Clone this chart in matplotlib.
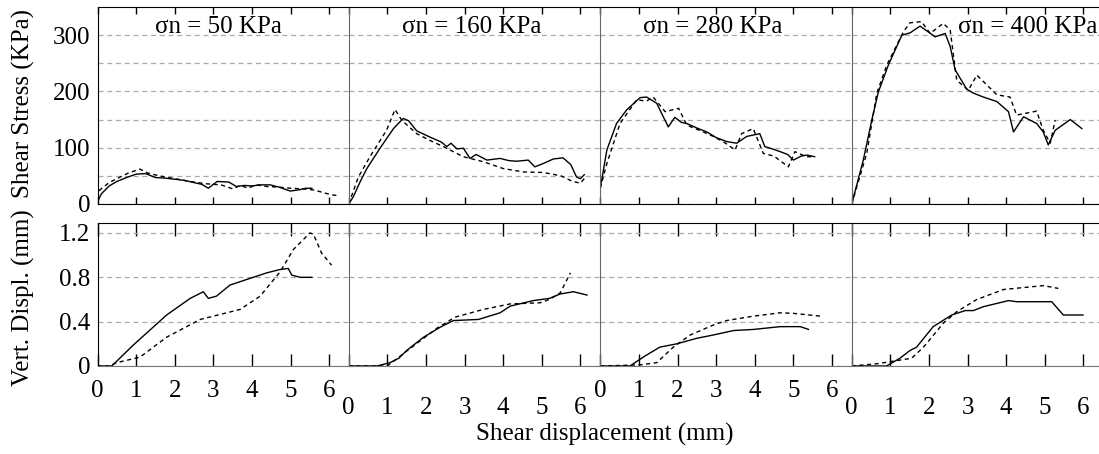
import matplotlib
matplotlib.use("Agg")
import matplotlib.pyplot as plt

plt.rcParams['font.family'] = ['Liberation Serif', 'DejaVu Serif']

# ---------------- data ----------------
normal_stress = [50, 160, 280, 400]
titles = ["σn = 50 KPa", "σn = 160 KPa", "σn = 280 KPa", "σn = 400 KPa"]
title_x = [3.12, 3.19, 2.92, 4.57]

# shear stress (KPa) vs shear displacement (mm): solid / dashed
tau_x_solid_50 = [0, 0.1, 0.3, 0.5, 0.75, 1.0, 1.25, 1.5, 1.75, 2.0, 2.25, 2.5, 2.7, 2.87, 3.0, 3.1, 3.4, 3.6, 3.8, 4.0, 4.2, 4.47, 4.7, 4.99, 5.2, 5.4, 5.55]
tau_y_solid_50 = [4, 18, 32, 40, 47, 53, 54, 47, 46, 44, 42, 38, 35, 28, 35, 40, 39, 31, 33, 32, 34, 34, 30, 23, 25, 28, 28]
tau_x_dash_50 = [0, 0.06, 0.3, 0.5, 0.8, 1.1, 1.3, 1.6, 2.0, 2.4, 2.8, 3.2, 3.5, 3.7, 3.9, 4.1, 4.4, 4.7, 5.0, 5.3, 5.6, 6.02, 6.2]
tau_y_dash_50 = [10, 25, 38, 45, 55, 62, 55, 50, 45, 40, 36, 34, 27, 33, 28, 34, 31, 30, 28, 27, 25, 17, 15]

tau_x_solid_160 = [0, 0.12, 0.3, 0.47, 0.81, 1.16, 1.41, 1.55, 1.76, 2.1, 2.4, 2.54, 2.65, 2.8, 2.97, 3.14, 3.3, 3.58, 3.92, 4.15, 4.35, 4.65, 4.82, 5.04, 5.3, 5.55, 5.75, 5.9, 6.0, 6.1]
tau_y_solid_160 = [0, 13, 40, 63, 99, 134, 152, 148, 130, 119, 110, 102, 108, 98, 99, 81, 88, 78, 81, 77, 76, 78, 66, 72, 80, 82, 70, 48, 45, 52]
tau_x_dash_160 = [0, 0.25, 0.55, 0.98, 1.2, 1.37, 1.76, 2.1, 2.45, 2.97, 3.49, 4.0, 4.52, 5.04, 5.5, 5.8, 6.0, 6.1]
tau_y_dash_160 = [0, 48, 84, 131, 168, 149, 125, 113, 102, 84, 75, 63, 57, 56, 50, 40, 37, 45]

tau_x_solid_280 = [0, 0.17, 0.42, 0.68, 1.03, 1.2, 1.46, 1.76, 1.93, 2.1, 2.24, 2.5, 2.76, 3.0, 3.27, 3.53, 3.79, 4.13, 4.26, 4.45, 4.66, 4.85, 5.0, 5.2, 5.35, 5.55]
tau_y_solid_280 = [28, 96, 143, 167, 189, 190, 179, 137, 154, 145, 143, 135, 128, 118, 111, 108, 120, 125, 102, 98, 93, 88, 78, 85, 87, 84]
tau_x_dash_280 = [0, 0.17, 0.51, 0.94, 1.2, 1.37, 1.68, 2.03, 2.24, 2.6, 2.93, 3.2, 3.49, 3.66, 3.96, 4.22, 4.5, 4.87, 5.04, 5.2, 5.35, 5.52]
tau_y_dash_280 = [28, 72, 143, 185, 183, 190, 164, 170, 140, 130, 120, 110, 96, 125, 134, 90, 85, 66, 93, 88, 84, 84]

tau_x_solid_400 = [0, 0.3, 0.52, 0.69, 0.95, 1.3, 1.51, 1.77, 2.0, 2.16, 2.42, 2.55, 2.68, 2.98, 3.15, 3.41, 3.76, 4.06, 4.19, 4.45, 4.79, 4.96, 5.09, 5.27, 5.66, 5.96]
tau_y_solid_400 = [0, 78, 149, 199, 247, 300, 304, 316, 305, 297, 303, 280, 238, 204, 197, 190, 182, 164, 128, 155, 143, 128, 105, 131, 150, 134]
tau_x_dash_400 = [0, 0.39, 0.65, 0.91, 1.34, 1.51, 1.81, 2.03, 2.37, 2.55, 2.72, 3.02, 3.24, 3.76, 4.1, 4.27, 4.79, 4.96, 5.14, 5.27]
tau_y_dash_400 = [0, 90, 197, 247, 306, 322, 324, 303, 321, 309, 220, 202, 229, 194, 190, 158, 165, 131, 108, 149]

# vertical displacement (mm) vs shear displacement (mm)
dv_x_solid_50 = [0, 0.37, 0.93, 1.36, 1.79, 2.4, 2.74, 2.87, 3.08, 3.43, 3.86, 4.38, 4.72, 4.94, 5.03, 5.25, 5.55]
dv_y_solid_50 = [0, 0, 0.19, 0.325, 0.46, 0.61, 0.67, 0.61, 0.63, 0.73, 0.78, 0.84, 0.87, 0.88, 0.82, 0.80, 0.80]
dv_x_dash_50 = [0, 0.3, 0.5, 1.1, 1.79, 2.66, 3.69, 4.21, 4.73, 5.07, 5.5, 5.59, 5.8, 6.06]
dv_y_dash_50 = [0, 0, 0.03, 0.08, 0.26, 0.42, 0.51, 0.63, 0.85, 1.05, 1.2, 1.19, 1.02, 0.91]

dv_x_solid_160 = [0, 0.73, 1.07, 1.3, 1.5, 1.94, 2.37, 2.71, 3.36, 3.92, 4.18, 4.78, 5.2, 5.48, 5.82, 6.17]
dv_y_solid_160 = [0, 0, 0.03, 0.07, 0.14, 0.26, 0.35, 0.41, 0.42, 0.48, 0.54, 0.59, 0.61, 0.65, 0.67, 0.64]
dv_x_dash_160 = [0, 1.0, 1.41, 2.28, 2.75, 3.48, 4.18, 4.95, 5.2, 5.48, 5.74]
dv_y_dash_160 = [0, 0, 0.11, 0.34, 0.44, 0.51, 0.56, 0.57, 0.6, 0.66, 0.84]

dv_x_solid_280 = [0, 0.77, 1.11, 1.54, 1.98, 2.5, 2.93, 3.45, 3.97, 4.66, 5.18, 5.39]
dv_y_solid_280 = [0, 0, 0.08, 0.17, 0.2, 0.25, 0.28, 0.32, 0.33, 0.355, 0.355, 0.33]
dv_x_dash_280 = [0, 1.03, 1.46, 1.89, 2.33, 2.93, 3.27, 3.97, 4.66, 5.0, 5.69]
dv_y_dash_280 = [0, 0.01, 0.03, 0.17, 0.28, 0.37, 0.41, 0.45, 0.48, 0.475, 0.45]

dv_x_solid_400 = [0, 0.9, 1.25, 1.51, 1.68, 2.11, 2.59, 2.94, 3.15, 3.41, 4.06, 4.27, 5.18, 5.48, 5.99]
dv_y_solid_400 = [0, 0, 0.07, 0.14, 0.17, 0.355, 0.46, 0.5, 0.5, 0.535, 0.59, 0.58, 0.58, 0.46, 0.46]
dv_x_dash_400 = [0, 0.65, 1.55, 1.86, 2.37, 2.72, 3.24, 3.93, 4.96, 5.35]
dv_y_dash_400 = [0, 0.02, 0.07, 0.17, 0.385, 0.49, 0.6, 0.69, 0.725, 0.70]

tau_solid = [(tau_x_solid_50, tau_y_solid_50), (tau_x_solid_160, tau_y_solid_160),
             (tau_x_solid_280, tau_y_solid_280), (tau_x_solid_400, tau_y_solid_400)]
tau_dash = [(tau_x_dash_50, tau_y_dash_50), (tau_x_dash_160, tau_y_dash_160),
            (tau_x_dash_280, tau_y_dash_280), (tau_x_dash_400, tau_y_dash_400)]
dv_solid = [(dv_x_solid_50, dv_y_solid_50), (dv_x_solid_160, dv_y_solid_160),
            (dv_x_solid_280, dv_y_solid_280), (dv_x_solid_400, dv_y_solid_400)]
dv_dash = [(dv_x_dash_50, dv_y_dash_50), (dv_x_dash_160, dv_y_dash_160),
           (dv_x_dash_280, dv_y_dash_280), (dv_x_dash_400, dv_y_dash_400)]

x_ticks = [0, 1, 2, 3, 4, 5, 6]
tau_ticks = [0, 50, 100, 150, 200, 250, 300]
tau_ticklabels = ["0", "", "100", "", "200", "", "300"]
dv_ticks = [0, 0.4, 0.8, 1.2]
dv_ticklabels = ["0", "0.4", "0.8", "1.2"]

# ---------------- figure ----------------
W, H = 1099, 454
fig = plt.figure(figsize=(W / 100, H / 100), dpi=100)

x_left = [97.5, 348.7, 600.3, 851.7]
panel_w = 251.4
top_y0, top_y1 = 7, 204
bot_y0, bot_y1 = 223, 366
FS = 18
grid_kw = dict(color='#aaaaaa', linestyle=(0, (4, 3)), linewidth=0.9)
gray_spine = '#666666'


def make_axes(x0, y_top, y_bot):
    return fig.add_axes([x0 / W, 1 - y_bot / H, panel_w / W, (y_bot - y_top) / H])


for i in range(4):
    ax_t = make_axes(x_left[i], top_y0, top_y1)
    ax_b = make_axes(x_left[i], bot_y0, bot_y1)

    ax_t.plot(*tau_solid[i], color='black', lw=1.0)
    ax_t.plot(*tau_dash[i], color='black', lw=1.0, linestyle=(0, (3, 2.5)))
    ax_b.plot(*dv_solid[i], color='black', lw=1.0)
    ax_b.plot(*dv_dash[i], color='black', lw=1.0, linestyle=(0, (3, 2.5)))

    ax_t.set_ylim(0, 350)
    ax_b.set_ylim(0, 1.29)
    for ax in (ax_t, ax_b):
        ax.set_xlim(0, 6.51)
        ax.set_xticks(x_ticks)
        ax.spines['right'].set_visible(False)
        ax.spines['left'].set_color('black' if i == 0 else gray_spine)
        ax.spines['top'].set_color('black')
        ax.tick_params(axis='y', length=0, pad=5, labelsize=FS)
        ax.tick_params(axis='x', direction='in', top=True, bottom=True,
                       length=4, width=1, color='black', labelsize=FS)
        ax.grid(True, axis='y', **grid_kw)
        ax.set_axisbelow(True)

    ax_t.set_yticks(tau_ticks)
    ax_b.set_yticks(dv_ticks)
    if i == 0:
        ax_t.set_yticklabels(tau_ticklabels)
        ax_b.set_yticklabels(dv_ticklabels)
    else:
        ax_t.set_yticklabels([])
        ax_b.set_yticklabels([])

    ax_t.tick_params(axis='x', labelbottom=False, length=5)
    ax_b.spines['bottom'].set_color('#777777')
    ax_b.tick_params(axis='x', length=9, pad=(10 if i % 2 == 0 else 22))

    ax_t.text(title_x[i], 314, titles[i], ha='center', va='center', fontsize=FS)

fig.text(23 / W, 1 - 104 / H, "Shear Stress (KPa)", rotation=90,
         ha='center', va='center', fontsize=FS)
fig.text(23 / W, 1 - 298 / H, "Vert. Displ. (mm)", rotation=90,
         ha='center', va='center', fontsize=FS)
fig.text(605 / W, 1 - 434 / H, "Shear displacement (mm)",
         ha='center', va='center', fontsize=FS)

fig.savefig("out.png", dpi=100)
